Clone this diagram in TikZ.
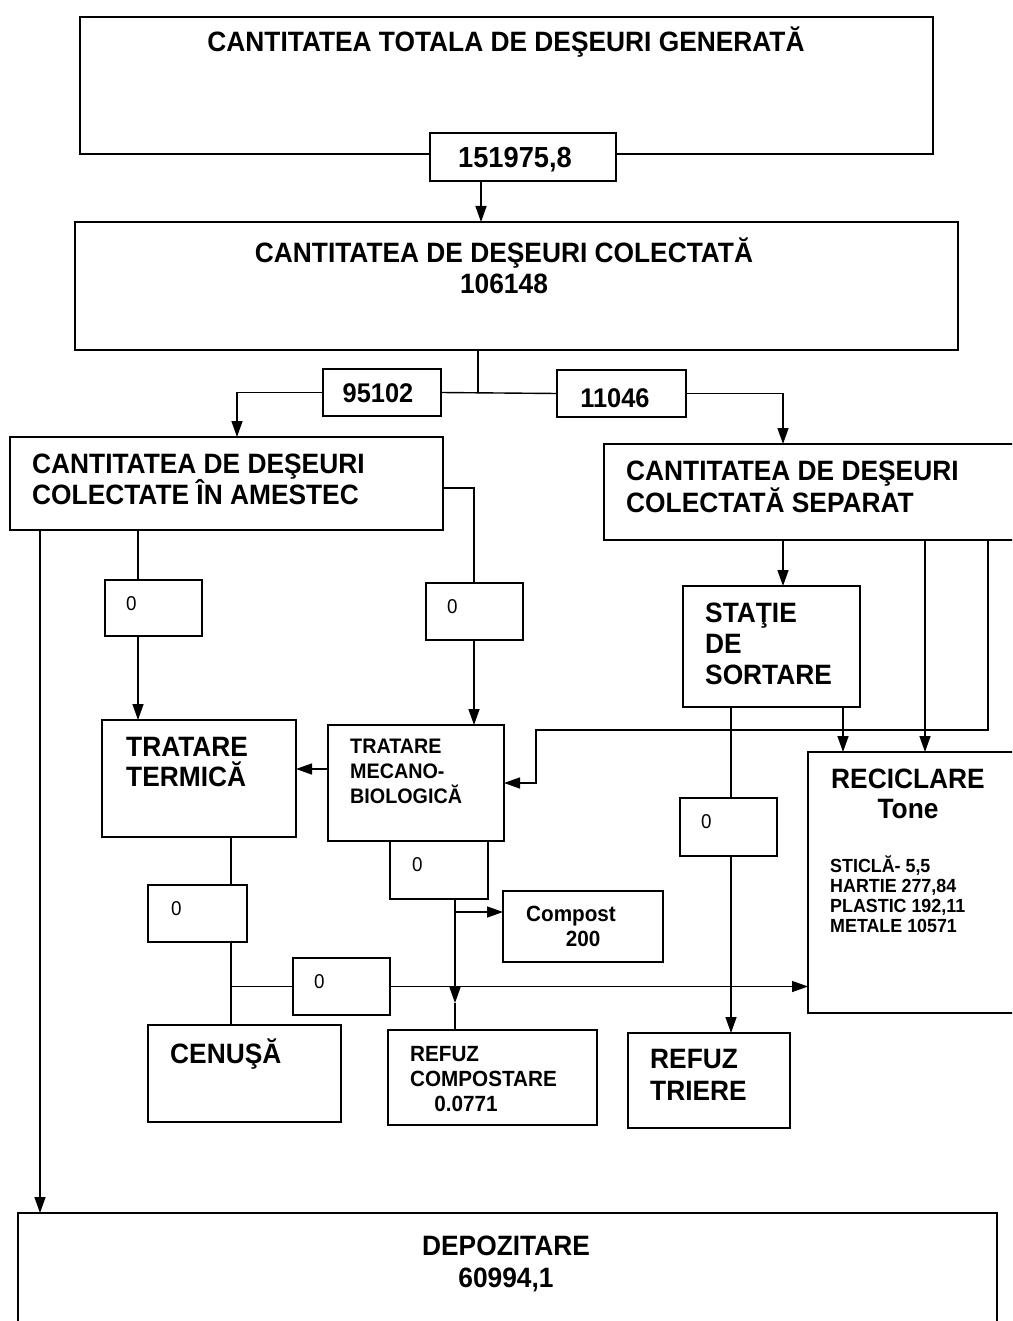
\documentclass[tikz,border=0pt]{standalone}
\usepackage{fontspec}
\setmainfont{Liberation Sans}[FakeStretch=0.94]
\usetikzlibrary{arrows.meta,fit}
\tikzset{
  box/.style={draw, line width=1.5pt, inner sep=0pt, outer sep=0pt, fill=white},
  arr/.style={line width=1.4pt, -{Triangle[length=16pt,width=11pt]}},
  ln/.style={line width=1.4pt},
  tl/.style={font=\bfseries\fontsize{28}{34}\selectfont, inner sep=0pt, anchor=base west},
  tc/.style={font=\bfseries\fontsize{28}{34}\selectfont, inner sep=0pt, anchor=base},
  tm/.style={font=\bfseries\fontsize{22}{26}\selectfont, inner sep=0pt, anchor=base west},
  tmc/.style={font=\bfseries\fontsize{22}{26}\selectfont, inner sep=0pt, anchor=base},
  tmb/.style={font=\bfseries\fontsize{21}{25}\selectfont, inner sep=0pt, anchor=base west},
  ts/.style={font=\bfseries\fontsize{19}{22}\selectfont, inner sep=0pt, anchor=base west},
  tz/.style={font=\fontsize{20}{24}\selectfont, inner sep=0pt, anchor=base west},
  tv/.style={font=\bfseries\fontsize{27}{32}\selectfont, inner sep=0pt, anchor=base},
}
\begin{document}
\begin{tikzpicture}[x=1pt,y=-1pt]
\clip (0,0) rectangle (1012,1321);
\useasboundingbox (0,0) rectangle (1012,1321);
\fill[white] (0,0) rectangle (1012,1321);

% boxes
\node[box, fit={(80,17)(933,154)}] (b1) {};
\node[box, fit={(430,133)(616,181)}] (v1) {};
\node[box, fit={(75,222)(958,350)}] (b2) {};
\node[box, fit={(323,369)(441,416)}] (v2) {};
\node[box, fit={(557,370)(686,417)}] (v3) {};
\node[box, fit={(10,437)(443,530)}] (b3) {};
\node[box, fit={(604,444)(1040,540)}] (b4) {};
\node[box, fit={(105,580)(202,636)}] (z1) {};
\node[box, fit={(426,583)(523,640)}] (z2) {};
\node[box, fit={(683,586)(860,707)}] (st) {};
\node[box, fit={(102,720)(296,837)}] (tt) {};
\node[box, fit={(328,725)(504,841)}] (tmb) {};
\node[box, fit={(808,752)(1040,1013)}] (rec) {};
\node[box, fit={(680,798)(777,856)}] (z4) {};
\node[box, fit={(390,841)(488,899)}] (z3) {};
\node[box, fit={(148,885)(247,942)}] (z5) {};
\node[box, fit={(503,891)(663,962)}] (cp) {};
\node[box, fit={(293,958)(390,1015)}] (z6) {};
\node[box, fit={(148,1025)(341,1122)}] (ce) {};
\node[box, fit={(388,1030)(597,1125)}] (rc) {};
\node[box, fit={(628,1033)(790,1128)}] (rt) {};
\node[box, fit={(18,1213)(997,1340)}] (dep) {};

% texts
\node[tc] (t1) at (506,52) {CANTITATEA TOTALA DE DEŞEURI GENERATĂ};
\node[tc, font=\bfseries\fontsize{29}{34}\selectfont] (tv1) at (515,168) {151975,8};
\node[tc] (t2a) at (504,263) {CANTITATEA DE DEŞEURI COLECTATĂ};
\node[tc] (t2b) at (504,294) {106148};
\node[tv] (tv2) at (378,402) {95102};
\node[tv] (tv3) at (615,407) {11046};
\node[tl] (t3a) at (32,473) {CANTITATEA DE DEŞEURI};
\node[tl] (t3b) at (32,504) {COLECTATE ÎN AMESTEC};
\node[tl] (t4a) at (626,480) {CANTITATEA DE DEŞEURI};
\node[tl] (t4b) at (626,512) {COLECTATĂ SEPARAT};
\node[tz] (tz1) at (126,610) {0};
\node[tz] (tz2) at (447,613) {0};
\node[tl] (ts1) at (705,622) {STAŢIE};
\node[tl] (ts2) at (705,653) {DE};
\node[tl] (ts3) at (705,684) {SORTARE};
\node[tl] (ttt1) at (126,756) {TRATARE};
\node[tl] (ttt2) at (126,786) {TERMICĂ};
\node[tmb] (tm1) at (350,753) {TRATARE};
\node[tmb] (tm2) at (350,778) {MECANO-};
\node[tmb] (tm3) at (350,803) {BIOLOGICĂ};
\node[tc] (tr1) at (908,788) {RECICLARE};
\node[tc] (tr2) at (908,818) {Tone};
\node[ts] (tr3) at (830,872) {STICLĂ- 5,5};
\node[ts] (tr4) at (830,892) {HARTIE 277,84};
\node[ts] (tr5) at (830,912) {PLASTIC 192,11};
\node[ts] (tr6) at (830,932) {METALE 10571};
\node[tz] (tz4) at (701,828) {0};
\node[tz] (tz3) at (412,871) {0};
\node[tz] (tz5) at (171,915) {0};
\node[tmc] (tcp1) at (571,921) {Compost};
\node[tmc] (tcp2) at (583,946) {200};
\node[tz] (tz6) at (314,988) {0};
\node[tl] (tce) at (170,1063) {CENUŞĂ};
\node[tm] (trc1) at (410,1061) {REFUZ};
\node[tm] (trc2) at (410,1086) {COMPOSTARE};
\node[tmc] (trc3) at (466,1111) {0.0771};
\node[tl] (trt1) at (650,1068) {REFUZ};
\node[tl] (trt2) at (650,1100) {TRIERE};
\node[tc] (td1) at (506,1255) {DEPOZITARE};
\node[tc] (td2) at (506,1287) {60994,1};

% connectors
\draw[arr] (481,0 |- v1.south) -- (481,0 |- b2.north);
\draw[ln] (478,0 |- b2.south) -- (478,0 |- v2.east);
\draw[ln] (v2.east) -- (v3.west);
\draw[arr] (v2.west) -| (237,0 |- b3.north);
\draw[arr] (v3.east) -| (783,0 |- b4.north);
\draw[arr] (40,0 |- b3.south) -- (40,0 |- dep.north);
\draw[ln] (138,0 |- b3.south) -- (138,0 |- z1.north);
\draw[arr] (138,0 |- z1.south) -- (138,0 |- tt.north);
\draw[ln] (b3.east |- 0,488) -| (474,0 |- z2.north);
\draw[arr] (474,0 |- z2.south) -- (474,0 |- tmb.north);
\draw[arr] (783,0 |- b4.south) -- (783,0 |- st.north);
\draw[arr] (925,0 |- b4.south) -- (925,0 |- rec.north);
\draw[arr] (988,0 |- b4.south) -- (988,730) -- (536,730) -- (536,0 |- tmb.east) -- (tmb.east);
\draw[arr] (843,0 |- st.south) -- (843,0 |- rec.north);
\draw[ln] (731,0 |- st.south) -- (731,0 |- z4.north);
\draw[arr] (731,0 |- z4.south) -- (731,0 |- rt.north);
\draw[arr] (tmb.west |- 0,769) -- (tt.east |- 0,769);
\draw[ln] (231,0 |- tt.south) -- (231,0 |- z5.north);
\draw[ln] (231,0 |- z5.south) -- (231,0 |- ce.north);
\draw[ln] (231,0 |- z6.west) -- (z6.west);
\draw[arr] (z6.east) -- (rec.west |- z6.east);
\draw[arr] (455,0 |- z3.south) -- (455,1003);
\draw[ln] (455,1003) -- (455,0 |- rc.north);
\draw[arr] (455,912) -- (cp.west |- 0,912);
\end{tikzpicture}
\end{document}
